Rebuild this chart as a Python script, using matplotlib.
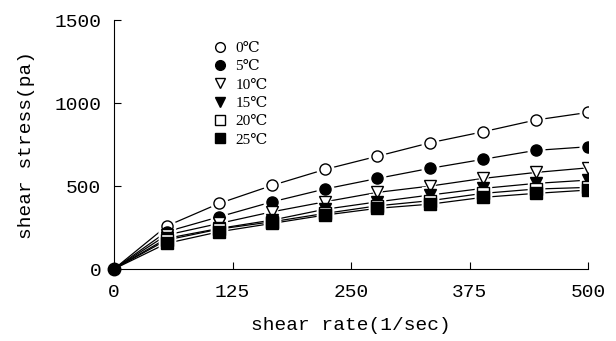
import matplotlib
matplotlib.use("Agg")
import matplotlib.pyplot as plt
from matplotlib.lines import Line2D

shear_rate = [0, 55.6, 111.1, 166.7, 222.2, 277.8, 333.3, 388.9, 444.4, 500]
temps = ["0℃", "5℃", "10℃", "15℃", "20℃", "25℃"]
stress_0 = [0, 259, 396, 504, 600, 680, 761, 827, 898, 944]
stress_5 = [0, 225, 315, 405, 482, 546, 607, 661, 715, 737]
stress_10 = [0, 205, 275, 345, 405, 462, 500, 546, 582, 610]
stress_15 = [0, 185, 245, 295, 360, 405, 446, 486, 516, 536]
stress_20 = [0, 175, 241, 285, 335, 381, 412, 456, 482, 492]
stress_25 = [0, 155, 225, 275, 325, 366, 391, 432, 456, 476]
series = [stress_0, stress_5, stress_10, stress_15, stress_20, stress_25]
x_ticks = [0, 125, 250, 375, 500]
y_ticks = [0, 500, 1000, 1500]

markers = ["o", "o", "v", "v", "s", "s"]
fills = ["white", "black", "white", "black", "white", "black"]

fig = plt.figure(figsize=(6.16, 3.41), dpi=100)
ax = fig.add_axes([0.185, 0.211, 0.770, 0.730])

mono = "Liberation Mono"
for ys, m, fc in zip(series, markers, fills):
    ax.plot(shear_rate, ys, color="black", lw=0.9, zorder=2)
    ax.plot(shear_rate[1:], ys[1:], ls="none", marker=m, ms=12,
            mfc="white", mec="white", zorder=3)
for ys, m, fc in zip(series, markers, fills):
    ax.plot(shear_rate[1:], ys[1:], ls="none", marker=m, ms=8,
            mfc=fc, mec="black", mew=1.0, zorder=4)
ax.plot([0], [0], ls="none", marker="o", ms=9, mfc="black", mec="black",
        zorder=5, clip_on=False)

ax.set_xlim(0, 500)
ax.set_ylim(0, 1500)
ax.set_xticks(x_ticks)
ax.set_yticks(y_ticks)
ax.set_xticklabels([str(v) for v in x_ticks], fontfamily=mono, fontsize=14)
ax.set_yticklabels([str(v) for v in y_ticks], fontfamily=mono, fontsize=14)
ax.tick_params(axis="both", direction="in", length=5, width=0.8)
ax.tick_params(axis="x", pad=11)
ax.tick_params(axis="y", pad=9)
ax.spines["top"].set_visible(False)
ax.spines["right"].set_visible(False)
ax.set_xlabel("shear rate(1/sec)", fontfamily=mono, fontsize=14, labelpad=11)
ax.set_ylabel("shear stress(pa)", fontfamily=mono, fontsize=14, labelpad=14)

handles = [Line2D([], [], ls="none", marker=m, ms=7, mfc=fc, mec="black", mew=1.0)
           for m, fc in zip(markers, fills)]
leg = ax.legend(handles, temps, loc="upper left", bbox_to_anchor=(0.195, 0.945),
                frameon=False, handlelength=0.8, handletextpad=0.6,
                labelspacing=0.3, borderpad=0,
                prop={"family": ["Liberation Serif", "DejaVu Serif"], "size": 11})

fig.savefig("out.png", dpi=100)
